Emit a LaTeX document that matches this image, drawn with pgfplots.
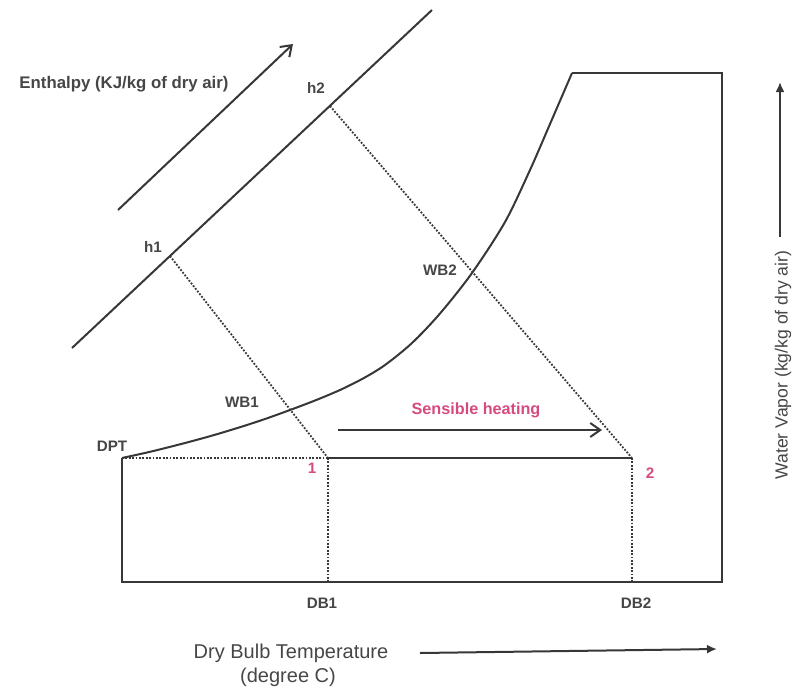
\documentclass[border=0pt]{standalone}
\usepackage{pgfplots}
\pgfplotsset{compat=1.18}
\usepackage{fontspec}
\setmainfont{Liberation Sans}
\usetikzlibrary{arrows.meta}
\definecolor{ln}{RGB}{55,55,55}
\definecolor{tx}{RGB}{70,70,70}
\definecolor{pk}{RGB}{214,74,128}
\begin{document}
\begin{tikzpicture}
\begin{axis}[width=399pt,height=344.5pt,scale only axis,
  xmin=0,xmax=798,ymin=0,ymax=689,y dir=reverse,hide axis,clip=false]
% frame for bounding box
\addplot[draw=none] coordinates {(0,0) (798,689)};
% chart outline
\addplot[ln,line width=1pt] coordinates {(122,458) (122,582) (722,582) (722,73) (572,73)};
% saturation curve
\addplot[ln,line width=1pt,smooth,tension=0.5] coordinates {(122,458) (150,451.8) (180,444.3) (210,436.2) (240,427.2) (265,419) (290,410) (315,400.5) (340,390) (363,378.5) (385,365) (412,343) (440,313.5) (472,273) (505,222) (530,170) (550,124) (572,73)};
% enthalpy line
\addplot[ln,line width=1pt] coordinates {(72,348) (432,10)};
% enthalpy arrow
\addplot[ln,line width=1pt,-{Straight Barb[length=5pt,width=7pt]}] coordinates {(118,210) (293,44)};
% process line
\addplot[ln,line width=1pt] coordinates {(328,458) (632,458)};
% sensible heating arrow
\addplot[ln,line width=1pt,-{Straight Barb[length=5pt,width=7pt]}] coordinates {(338,430) (602,430)};
% dotted lines
\addplot[ln,line width=0.9pt,dash pattern=on 0.9pt off 0.8pt] coordinates {(122,458) (328,458)};
\addplot[ln,line width=0.9pt,dash pattern=on 0.9pt off 0.8pt] coordinates {(328,458) (328,582)};
\addplot[ln,line width=0.9pt,dash pattern=on 0.9pt off 0.8pt] coordinates {(632,458) (632,582)};
\addplot[ln,line width=0.9pt,dash pattern=on 0.9pt off 0.8pt] coordinates {(170,256) (328,458)};
\addplot[ln,line width=0.9pt,dash pattern=on 0.9pt off 0.8pt] coordinates {(330,106) (632,458)};
% axis arrows
\addplot[ln,line width=1pt,-{Latex[length=5pt,width=4.5pt]}] coordinates {(420,653) (717,649)};
\addplot[ln,line width=1pt,-{Latex[length=5pt,width=4.5pt]}] coordinates {(780,237) (780,82)};
% labels
\node[tx,font=\fontsize{8.4}{10}\selectfont\bfseries] at (axis cs:124,84) {Enthalpy (KJ/kg of dry air)};
\node[tx,font=\fontsize{7.6}{9}\selectfont\bfseries] at (axis cs:316,88) {h2};
\node[tx,font=\fontsize{7.6}{9}\selectfont\bfseries] at (axis cs:153,247) {h1};
\node[tx,font=\fontsize{7.6}{9}\selectfont\bfseries] at (axis cs:440,270) {WB2};
\node[tx,font=\fontsize{7.6}{9}\selectfont\bfseries] at (axis cs:242,402) {WB1};
\node[tx,font=\fontsize{7.6}{9}\selectfont\bfseries] at (axis cs:112,446) {DPT};
\node[tx,font=\fontsize{7.6}{9}\selectfont\bfseries] at (axis cs:322,603) {DB1};
\node[tx,font=\fontsize{7.6}{9}\selectfont\bfseries] at (axis cs:636,603) {DB2};
\node[pk,font=\fontsize{7.6}{9}\selectfont\bfseries] at (axis cs:312,468) {1};
\node[pk,font=\fontsize{7.6}{9}\selectfont\bfseries] at (axis cs:650,473) {2};
\node[pk,font=\fontsize{8.1}{10}\selectfont\bfseries] at (axis cs:476,410) {Sensible heating};
\node[tx,font=\fontsize{10}{12}\selectfont] at (axis cs:291,653) {Dry Bulb Temperature};
\node[tx,font=\fontsize{10}{12}\selectfont] at (axis cs:288,677) {(degree C)};
\node[tx,font=\fontsize{8.8}{10}\selectfont,rotate=90] at (axis cs:783,365) {Water Vapor (kg/kg of dry air)};
\end{axis}
\end{tikzpicture}
\end{document}
